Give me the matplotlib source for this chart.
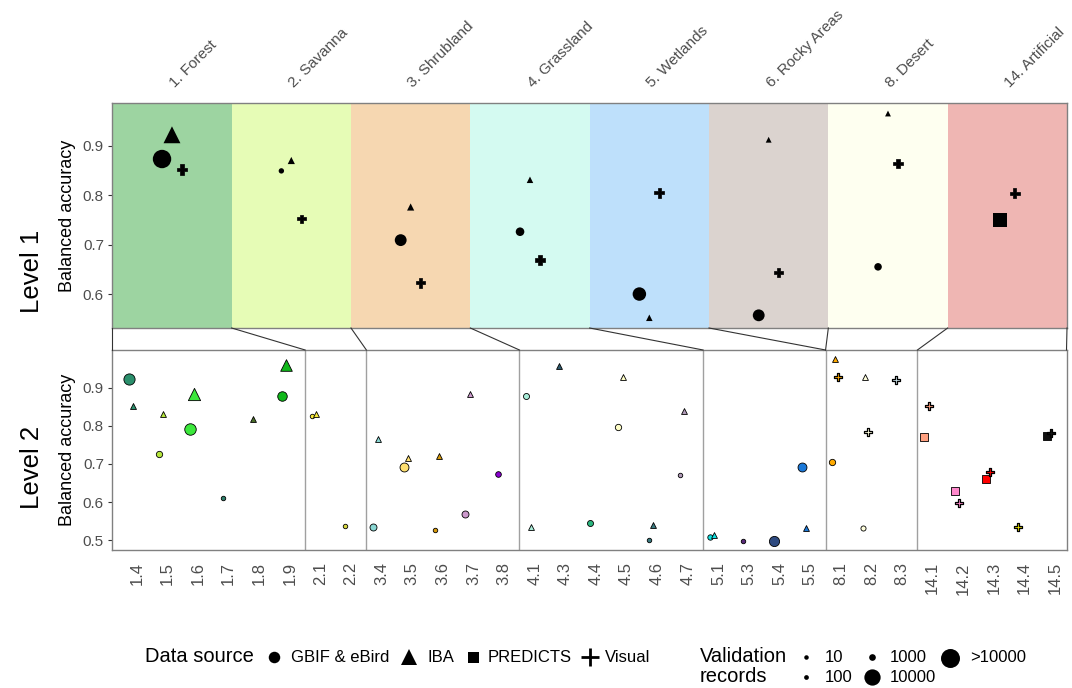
import numpy as np
import matplotlib
matplotlib.use("Agg")
import matplotlib.pyplot as plt
from matplotlib.lines import Line2D

plt.rcParams['font.family'] = ['Liberation Sans', 'DejaVu Sans']

W, H = 1072, 688

# ---------------- data ----------------
habitats = ["1. Forest", "2. Savanna", "3. Shrubland", "4. Grassland",
            "5. Wetlands", "6. Rocky Areas", "8. Desert", "14. Artificial"]
habitat_codes = ["1", "2", "3", "4", "5", "6", "8", "14"]
band_colors = ["#9dd4a1", "#e6fcb6", "#f6d7b1", "#d4faf1", "#bee0fb",
               "#dbd3cf", "#fefff0", "#efb6b3"]

sources = ["GBIF & eBird", "IBA", "PREDICTS", "Visual"]
source_markers = ["o", "^", "s", "P"]

# Level 1 points
l1_habitat = ["1", "1", "1", "2", "2", "2", "3", "3", "3", "4", "4", "4",
              "5", "5", "5", "6", "6", "6", "8", "8", "8", "14", "14"]
l1_source = ["GBIF & eBird", "IBA", "Visual"] * 7 + ["PREDICTS", "Visual"]
l1_accuracy = [0.873, 0.922, 0.852, 0.849, 0.870, 0.752, 0.709, 0.776, 0.623,
               0.726, 0.831, 0.669, 0.600, 0.552, 0.805, 0.557, 0.912, 0.644,
               0.655, 0.965, 0.864, 0.750, 0.804]
l1_records = [13000, 6100, 1600, 370, 430, 890, 4900, 430, 1300,
              2200, 210, 1300, 6600, 210, 1300, 4900, 10, 890,
              1500, 10, 1300, 8300, 1300]

# Level 2 categories
sub_habitats = ["1.4", "1.5", "1.6", "1.7", "1.8", "1.9", "2.1", "2.2",
                "3.4", "3.5", "3.6", "3.7", "3.8", "4.1", "4.3", "4.4", "4.5",
                "4.6", "4.7", "5.1", "5.3", "5.4", "5.5", "8.1", "8.2", "8.3",
                "14.1", "14.2", "14.3", "14.4", "14.5"]
sub_colors = ["#2b8f6c", "#b5e63c", "#3ce83c", "#2f7f6a", "#4a6e2a", "#10b81a",
              "#f7e93a", "#d8d840", "#8ad8d4", "#ffe070", "#d99a0a", "#cc99cc",
              "#8a00d0", "#a8ecd8", "#2d5a6e", "#2ab57e", "#ffffc8", "#3a7a80",
              "#b09ab8", "#10e0e0", "#5a2a7a", "#2e4a80", "#1a78d8", "#ffaa00",
              "#ffffdd", "#c8e0e8", "#ffa080", "#ff88cc", "#ff0000", "#e8e000",
              "#111111"]

# Level 2 points
l2_sub = ["1.4", "1.4", "1.5", "1.5", "1.6", "1.6", "1.7", "1.8", "1.9", "1.9",
          "2.1", "2.1", "2.2", "3.4", "3.4", "3.5", "3.5", "3.6", "3.6",
          "3.7", "3.7", "3.8", "4.1", "4.1", "4.3", "4.4", "4.5", "4.5",
          "4.6", "4.6", "4.7", "4.7", "5.1", "5.1", "5.3", "5.4", "5.5", "5.5",
          "8.1", "8.1", "8.1", "8.2", "8.2", "8.2", "8.3",
          "14.1", "14.1", "14.2", "14.2", "14.3", "14.3", "14.4", "14.5", "14.5"]
l2_source = ["GBIF & eBird", "IBA", "GBIF & eBird", "IBA", "GBIF & eBird", "IBA",
             "GBIF & eBird", "IBA", "GBIF & eBird", "IBA",
             "GBIF & eBird", "IBA", "GBIF & eBird", "GBIF & eBird", "IBA",
             "GBIF & eBird", "IBA", "GBIF & eBird", "IBA",
             "GBIF & eBird", "IBA", "GBIF & eBird", "GBIF & eBird", "IBA", "IBA",
             "GBIF & eBird", "GBIF & eBird", "IBA",
             "GBIF & eBird", "IBA", "GBIF & eBird", "IBA",
             "GBIF & eBird", "IBA", "GBIF & eBird", "GBIF & eBird",
             "GBIF & eBird", "IBA",
             "GBIF & eBird", "IBA", "Visual", "GBIF & eBird", "IBA", "Visual",
             "Visual",
             "PREDICTS", "Visual", "PREDICTS", "Visual", "PREDICTS", "Visual",
             "Visual", "PREDICTS", "Visual"]
l2_accuracy = [0.923, 0.851, 0.726, 0.830, 0.791, 0.884, 0.611, 0.817, 0.878, 0.960,
               0.825, 0.832, 0.538, 0.534, 0.766, 0.691, 0.715, 0.528, 0.721,
               0.569, 0.883, 0.674, 0.878, 0.534, 0.958, 0.545, 0.797, 0.927,
               0.500, 0.541, 0.672, 0.839, 0.508, 0.513, 0.499, 0.499,
               0.693, 0.531,
               0.705, 0.975, 0.929, 0.533, 0.928, 0.784, 0.919,
               0.770, 0.852, 0.628, 0.597, 0.661, 0.678, 0.535, 0.774, 0.780]
l2_records = [4300, 30, 820, 10, 4560, 2800, 10, 10, 2880, 2440,
              10, 10, 10, 1180, 10, 2440, 30, 10, 10,
              1180, 10, 490, 670, 10, 10, 670, 820, 10,
              10, 10, 10, 10, 370, 10, 10, 3430, 2440, 10,
              820, 10, 770, 250, 10, 770, 770,
              2580, 540, 2580, 540, 2030, 540, 540, 2030, 540]

size_breaks = [10, 100, 1000, 10000, 13900]
size_labels = ["10", "100", "1000", "10000", ">10000"]

# ---------------- helpers ----------------
shape_factor = {"o": 1.0, "^": 1.3, "s": 0.9, "P": 1.35, "+": 1.0}


def size_pts2(records, marker):
    d_px = np.sqrt(20 + 0.0245 * np.asarray(records, dtype=float))
    m_pt = d_px * shape_factor[marker] * 72.0 / 100.0
    return m_pt ** 2


def dodge(cats, srcs, width):
    offs = []
    for c, s in zip(cats, srcs):
        present = [src for src in sources if any(cc == c and ss == src for cc, ss in zip(cats, srcs))]
        n = len(present)
        idx = present.index(s)
        offs.append(width * ((idx + 0.5) / n - 0.5))
    return np.array(offs)


def px_fig(x, y):
    return x / W, 1 - y / H


fig = plt.figure(figsize=(W / 100, H / 100), dpi=100)
ax1 = fig.add_axes([112.3 / W, 1 - 328 / H, (1067 - 112.3) / W, (328 - 103.3) / H])
ax2 = fig.add_axes([112.3 / W, 1 - 549.7 / H, (1066.5 - 112.3) / W, (549.7 - 350) / H])

grey_txt = "#4d4d4d"
border = "#808080"

# ---------------- Level 1 ----------------
for i, c in enumerate(band_colors):
    ax1.axvspan(i - 0.5, i + 0.5, color=c, lw=0, zorder=0)

l1_x = np.array([habitat_codes.index(h) for h in l1_habitat], dtype=float)
l1_x = l1_x + dodge(l1_habitat, l1_source, 0.25)
for src, mk in zip(sources, source_markers):
    sel = [k for k, s in enumerate(l1_source) if s == src]
    if not sel:
        continue
    ax1.scatter(l1_x[sel], np.array(l1_accuracy)[sel],
                s=size_pts2(np.array(l1_records)[sel], mk), marker=mk,
                c="black", edgecolors="black",
                linewidths=0.5 if mk == "P" else 0, zorder=3)

ax1.set_xlim(-0.5, len(habitats) - 0.5)
lo, hi = min(l1_accuracy), max(l1_accuracy)
ax1.set_ylim(lo - 0.05 * (hi - lo), hi + 0.05 * (hi - lo))
ax1.set_yticks([0.6, 0.7, 0.8, 0.9])
ax1.set_yticklabels(["0.6", "0.7", "0.8", "0.9"])
ax1.xaxis.tick_top()
ax1.set_xticks(range(len(habitats)))
ax1.set_xticklabels(habitats)
ax1.tick_params(axis="x", length=0, pad=13, labelsize=11, colors=grey_txt)
for lab in ax1.get_xticklabels():
    lab.set_rotation(45)
    lab.set_ha("left")
    lab.set_va("center")
    lab.set_rotation_mode("anchor")

# ---------------- Level 2 ----------------
shift = -0.2
l2_x = np.array([sub_habitats.index(s) for s in l2_sub], dtype=float)
l2_x = l2_x + shift + dodge(l2_sub, l2_source, 0.28)
l2_cols = [sub_colors[sub_habitats.index(s)] for s in l2_sub]

# group separators
groups = [s.split(".")[0] for s in sub_habitats]
seps = [i + 0.5 for i in range(len(groups) - 1) if groups[i] != groups[i + 1]]
for sx in seps:
    ax2.axvline(sx, color="#a0a0a0", lw=1.0, zorder=1)

for k in range(len(l2_sub)):
    src = l2_source[k]
    mk = source_markers[sources.index(src)]
    ax2.scatter([l2_x[k]], [l2_accuracy[k]], s=size_pts2([l2_records[k]], mk),
                marker=mk, c=[l2_cols[k]], edgecolors="black",
                linewidths=0.9 if mk == "P" else 0.6, zorder=3)

x2lim = (-0.8, len(sub_habitats) - 1 + 0.37)
ax2.set_xlim(*x2lim)
lo, hi = min(l2_accuracy), max(l2_accuracy)
ax2.set_ylim(lo - 0.05 * (hi - lo), hi + 0.05 * (hi - lo))
ax2.set_yticks([0.5, 0.6, 0.7, 0.8, 0.9])
ax2.set_yticklabels(["0.5", "0.6", "0.7", "0.8", "0.9"])
ax2.set_xticks(range(len(sub_habitats)))
ax2.set_xticklabels(sub_habitats, rotation=90)
ax2.tick_params(axis="x", length=0, pad=9, labelsize=12, colors=grey_txt)

for ax in (ax1, ax2):
    ax.tick_params(axis="y", length=3, width=0.8, color="#333333",
                   labelsize=11, colors=grey_txt, pad=3)
    ax.tick_params(axis="y", color="#333333")
    for sp in ax.spines.values():
        sp.set_color(border)
        sp.set_linewidth(1.0)

# ---------------- connectors ----------------
fig.canvas.draw()
inv = fig.transFigure.inverted()
pairs = []
prev_right = x2lim[0]
for k, code in enumerate(habitat_codes):
    idx = [i for i, g in enumerate(groups) if g == code]
    if k == 0:
        left_b = x2lim[0]
    elif idx:
        left_b = idx[0] - 0.5
    else:
        left_b = prev_right
    if k == len(habitat_codes) - 1:
        right_b = x2lim[1]
    elif idx:
        right_b = idx[-1] + 0.5
    else:
        right_b = left_b
    pairs.append((k - 0.5, left_b))
    pairs.append((k + 0.5, right_b))
    prev_right = right_b
pairs = sorted(set(pairs))
y1b = ax1.get_ylim()[0]
y2t = ax2.get_ylim()[1]
for xt, xb in pairs:
    p1 = inv.transform(ax1.transData.transform((xt, y1b)))
    p2 = inv.transform(ax2.transData.transform((xb, y2t)))
    fig.add_artist(Line2D([p1[0], p2[0]], [p1[1], p2[1]], color="#333333",
                          lw=0.8, transform=fig.transFigure))

# ---------------- axis titles ----------------
fig.text(*px_fig(68, 215.5), "Balanced accuracy", rotation=90, ha="center",
         va="center", fontsize=13)
fig.text(*px_fig(68, 450), "Balanced accuracy", rotation=90, ha="center",
         va="center", fontsize=13)
fig.text(*px_fig(32, 271), "Level 1", rotation=90, ha="center", va="center",
         fontsize=18.5)
fig.text(*px_fig(32, 467), "Level 2", rotation=90, ha="center", va="center",
         fontsize=18.5)

# ---------------- legends ----------------
lax = fig.add_axes([0, 0, 1, 1])
lax.set_xlim(0, W)
lax.set_ylim(H, 0)
lax.axis("off")
lax.patch.set_alpha(0)

ly = 657
lax.text(145, ly, "Data source", fontsize=14.5, ha="left", va="center")
leg_marker_x = [273.6, 408.8, 473, 589.7]
leg_text_x = [291, 427.4, 488, 605]
leg_marker_px = [11.5, 16, 11, 18]
for src, mk, mx, tx, mpx in zip(sources, source_markers, leg_marker_x, leg_text_x, leg_marker_px):
    if mk == "P":
        lax.plot([mx], [ly], marker="+", ms=mpx * 0.72, mew=2.0, color="black")
    else:
        lax.plot([mx], [ly], marker=mk, ms=mpx * 0.72, color="black", mew=0)
    lax.text(tx, ly, src, fontsize=12, ha="left", va="center")

lax.text(700, 657, "Validation", fontsize=14.5, ha="left", va="center")
lax.text(700, 677, "records", fontsize=14.5, ha="left", va="center")
size_pos = [(805.7, 657), (805.7, 677), (871.7, 657), (871.7, 677), (950, 658)]
size_text_x = [825, 825, 890, 890, 970]
for b, lab, (sx, sy), tx in zip(size_breaks, size_labels, size_pos, size_text_x):
    lax.scatter([sx], [sy], s=size_pts2([b], "o"), c="black", linewidths=0)
    lax.text(tx, sy, lab, fontsize=12, ha="left", va="center")

fig.savefig("out.png", dpi=100)
